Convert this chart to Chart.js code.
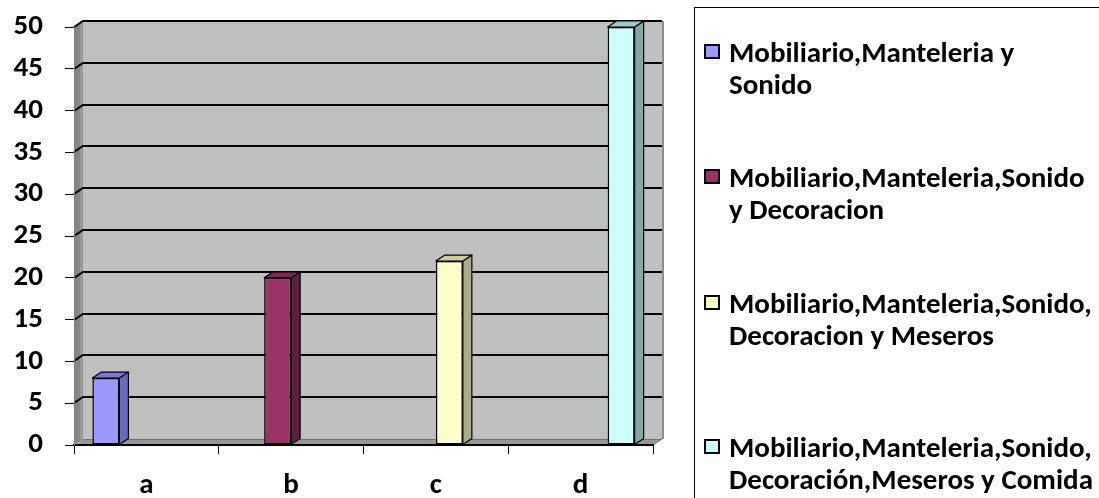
<!DOCTYPE html>
<html>
<head>
<meta charset="utf-8">
<script src="https://cdn.jsdelivr.net/npm/chart.js@4.4.0/dist/chart.umd.min.js"></script>
<style>
  html, body { margin: 0; padding: 0; background: #ffffff; }
  #wrap { width: 1099px; height: 498px; position: relative; }
</style>
</head>
<body>
<div id="wrap"><canvas id="chart"></canvas></div>
<script>
// Categories along the bottom axis
const categories = ['a', 'b', 'c', 'd'];

// Series names, split into the lines shown in the legend
const seriesNames = [
  ['Mobiliario,Manteleria y', 'Sonido'],
  ['Mobiliario,Manteleria,Sonido', 'y Decoracion'],
  ['Mobiliario,Manteleria,Sonido,', 'Decoracion y Meseros'],
  ['Mobiliario,Manteleria,Sonido,', 'Decoración,Meseros y Comida']
];

// One value per series, each in its own category
const seriesA = [8, null, null, null];
const seriesB = [null, 20, null, null];
const seriesC = [null, null, 22, null];
const seriesD = [null, null, null, 50];

// Value axis tick labels
const yTickValues = [0, 5, 10, 15, 20, 25, 30, 35, 40, 45, 50];

// Face colours of the 3D columns
const frontColors = ['#9999FF', '#993366', '#FFFFCC', '#CCFFFF'];
const sideColors  = ['#6B6BC0', '#5E1F40', '#ABAB88', '#7FA8A8'];
const topColors   = ['#7A7AD0', '#7A2952', '#CCCC9F', '#9CCACA'];

const FONT = 'Carlito, Lato, "Open Sans", sans-serif';
const FONT_SIZE = 29;
const DX = 9;   // depth offset to the right
const DY = 6;   // depth offset upwards

const seriesValues = [seriesA, seriesB, seriesC, seriesD];

// Back wall, side wall, floor and gridlines of the 3D box
const wallsPlugin = {
  id: 'walls',
  beforeDraw(chart) {
    const { ctx, chartArea, scales } = chart;
    const y = scales.y;
    const L = chartArea.left, R = chartArea.right;
    const T = y.getPixelForValue(50), B = y.getPixelForValue(0);
    ctx.save();
    // back wall
    ctx.fillStyle = '#C0C0C0';
    ctx.fillRect(L + DX, T - DY, R - L, B - T);
    ctx.strokeStyle = '#8C8C8C';
    ctx.lineWidth = 2;
    ctx.beginPath();
    ctx.moveTo(R + DX + 1, T - DY);
    ctx.lineTo(R + DX + 1, B - DY);
    ctx.stroke();
    // side wall
    ctx.fillStyle = '#868686';
    ctx.beginPath();
    ctx.moveTo(L, T); ctx.lineTo(L + DX, T - DY);
    ctx.lineTo(L + DX, B - DY); ctx.lineTo(L, B);
    ctx.closePath(); ctx.fill();
    ctx.fillStyle = '#9A9A9A';
    ctx.fillRect(L + DX - 3, T - DY, 3, B - T);
    // floor
    ctx.fillStyle = '#979797';
    ctx.beginPath();
    ctx.moveTo(L, B); ctx.lineTo(L + DX, B - DY);
    ctx.lineTo(R + DX, B - DY); ctx.lineTo(R, B);
    ctx.closePath(); ctx.fill();
    ctx.strokeStyle = '#6E6E6E';
    ctx.lineWidth = 1;
    ctx.beginPath();
    ctx.moveTo(L + DX, B - DY + 0.5); ctx.lineTo(R + DX, B - DY + 0.5);
    ctx.moveTo(R, B); ctx.lineTo(R + DX, B - DY);
    ctx.stroke();
    // gridlines
    ctx.strokeStyle = '#000000';
    ctx.lineWidth = 2;
    yTickValues.forEach(v => {
      if (v === 0) return;
      const py = Math.round(y.getPixelForValue(v));
      ctx.beginPath();
      ctx.moveTo(L, py);
      ctx.lineTo(L + DX, py - DY);
      ctx.lineTo(R + DX, py - DY);
      ctx.stroke();
    });
    ctx.restore();
  },
  afterDatasetsDraw(chart) {
    const { ctx } = chart;
    ctx.save();
    ctx.strokeStyle = '#000000';
    ctx.lineWidth = 1.2;
    ctx.lineJoin = 'round';
    chart.data.datasets.forEach((ds, i) => {
      const meta = chart.getDatasetMeta(i);
      meta.data.forEach((bar, j) => {
        if (ds.data[j] === null || ds.data[j] === undefined) return;
        const x1 = bar.x - bar.width / 2, x2 = bar.x + bar.width / 2;
        const top = bar.y, base = bar.base;
        // side face
        ctx.fillStyle = sideColors[i];
        ctx.beginPath();
        ctx.moveTo(x2, top); ctx.lineTo(x2 + DX, top - DY);
        ctx.lineTo(x2 + DX, base - DY); ctx.lineTo(x2, base);
        ctx.closePath(); ctx.fill(); ctx.stroke();
        // top face
        ctx.fillStyle = topColors[i];
        ctx.beginPath();
        ctx.moveTo(x1, top); ctx.lineTo(x1 + DX, top - DY);
        ctx.lineTo(x2 + DX, top - DY); ctx.lineTo(x2, top);
        ctx.closePath(); ctx.fill(); ctx.stroke();
      });
    });
    ctx.restore();
  },
  afterDraw(chart) {
    // legend box with wrapped series names
    const { ctx } = chart;
    ctx.save();
    ctx.strokeStyle = '#000000';
    ctx.lineWidth = 1;
    ctx.strokeRect(694.5, 7.5, 500, 600);
    const baselines = [62, 187, 313, 457];
    const lineGap = 32;
    ctx.font = 'bold ' + FONT_SIZE + 'px ' + FONT;
    ctx.textBaseline = 'alphabetic';
    ctx.textAlign = 'left';
    chart.data.datasets.forEach((ds, i) => {
      const b = baselines[i];
      ctx.fillStyle = frontColors[i];
      ctx.fillRect(705, b - 17, 14, 13);
      ctx.strokeStyle = '#000000';
      ctx.lineWidth = 2;
      ctx.strokeRect(705, b - 17, 14, 13);
      ctx.fillStyle = '#000000';
      seriesNames[i].forEach((line, k) => {
        ctx.fillText(line, 729, b + k * lineGap);
      });
    });
    ctx.restore();
  }
};

const datasets = seriesValues.map((vals, i) => ({
  label: seriesNames[i].join(' '),
  data: vals,
  backgroundColor: frontColors[i],
  borderColor: '#000000',
  borderWidth: 1.5,
  borderSkipped: false,
  barPercentage: 1.0,
  categoryPercentage: 0.746
}));

new Chart(document.getElementById('chart'), {
  type: 'bar',
  data: { labels: categories, datasets },
  plugins: [wallsPlugin],
  options: {
    responsive: true,
    maintainAspectRatio: false,
    animation: false,
    layout: { padding: { top: 27, right: 446, left: 0, bottom: 0 } },
    plugins: { legend: { display: false }, tooltip: { enabled: false } },
    scales: {
      x: {
        grid: { offset: true, drawOnChartArea: false, drawTicks: true, tickLength: 9, color: '#000000', lineWidth: 1 },
        border: { display: true, color: '#000000', width: 2 },
        ticks: { color: '#000000', padding: 14, font: { family: FONT, size: FONT_SIZE, weight: 'bold' } },
        afterFit(scale) { scale.height = 53; scale.paddingLeft = 0; scale.paddingRight = 0; }
      },
      y: {
        min: 0, max: 50,
        afterBuildTicks(scale) { scale.ticks = yTickValues.map(v => ({ value: v })); },
        grid: { drawOnChartArea: false, drawTicks: true, tickLength: 9, color: '#000000', lineWidth: 1 },
        border: { display: true, color: '#808080', width: 1 },
        ticks: { color: '#000000', padding: 22, font: { family: FONT, size: FONT_SIZE, weight: 'bold' } },
        afterFit(scale) { scale.width = 74; scale.paddingTop = 0; scale.paddingBottom = 0; }
      }
    }
  }
});
</script>
</body>
</html>
